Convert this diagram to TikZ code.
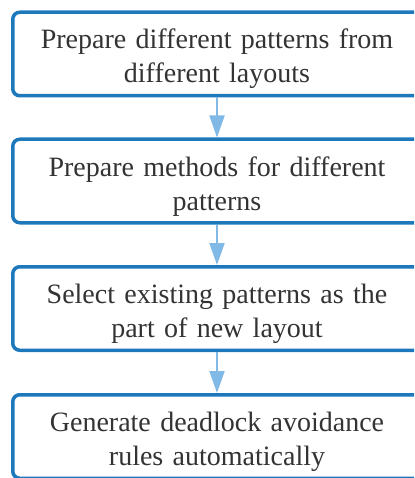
\documentclass[tikz,border=0pt]{standalone}
\usepackage{fontspec}
\setmainfont{Liberation Serif}
\usetikzlibrary{arrows.meta}
\definecolor{boxblue}{HTML}{1E78BC}
\definecolor{arrowblue}{HTML}{80B9E6}
\definecolor{textgray}{HTML}{333333}
\tikzset{
  stepbox/.style={draw=boxblue, line width=3.5pt, rounded corners=7pt, fill=white,
    minimum width=408.5pt, minimum height=83.5pt, text width=390pt, inner xsep=9pt,
    align=center, text=textgray, font=\fontsize{28}{34}\selectfont,
    execute at begin node={\rule{0pt}{30pt}}},
  flow/.style={draw=arrowblue, line width=2pt, -{Triangle[width=15pt,length=22pt]}}
}
\begin{document}
\begin{tikzpicture}[x=1pt,y=1pt]
  \clip (0,0) rectangle (414,-478);
  \node[stepbox] (b1) at (217,-54) {Prepare different patterns from\\different layouts};
  \node[stepbox] (b2) at (217,-181) {Prepare methods for different\\patterns};
  \node[stepbox] (b3) at (217,-308.5) {Select existing patterns as the\\part of new layout};
  \node[stepbox] (b4) at (217,-436.5) {Generate deadlock avoidance\\rules automatically};
  \draw[flow] (b1) -- (b2);
  \draw[flow] (b2) -- (b3);
  \draw[flow] (b3) -- (b4);
\end{tikzpicture}
\end{document}
